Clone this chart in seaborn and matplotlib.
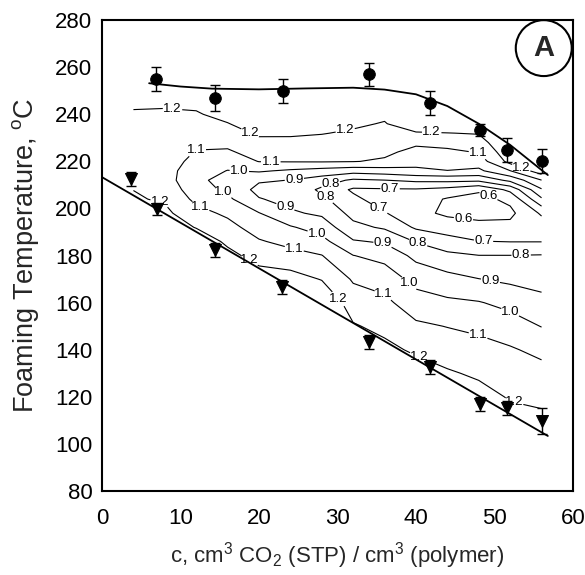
import matplotlib
matplotlib.use("Agg")
import matplotlib.pyplot as plt
from matplotlib.patches import Circle
from matplotlib.ticker import MultipleLocator
import numpy as np
import pandas as pd
import seaborn as sns

sns.set_style("white")
plt.rcParams["font.family"] = ["Liberation Sans", "DejaVu Sans"]

# upper foaming limit (circles) and lower foaming limit (triangles)
c_upper = [6.9, 14.4, 23.0, 34.0, 41.8, 48.2, 51.6, 56.0]
t_upper = [254.9, 246.9, 250.0, 257.0, 244.8, 233.3, 224.8, 220.1]
err_upper = [5, 5.5, 5, 5, 5, 2.5, 5, 5]

c_lower = [3.7, 7.0, 14.4, 22.9, 34.0, 41.8, 48.2, 51.6, 56.0]
t_lower = [212.5, 199.7, 182.3, 166.7, 143.3, 132.7, 116.9, 115.2, 109.7]
err_lower = [3, 2.5, 3, 3, 3, 3, 3, 3, 5.5]

# fitted boundaries
c_fit_upper = [6, 10, 14, 20, 26, 32, 36, 40, 44, 48, 52, 56.8]
t_fit_upper = [253.2, 251.8, 250.9, 250.6, 251.0, 251.3, 250.5, 248.5, 243.5, 236.0, 227.0, 214.2]
c_fit_lower = [0, 56.8]
t_fit_lower = [213.3, 103.4]

# contour map (estimated values on a coarse grid)
grid_c = [4, 8, 12, 16, 20, 24, 28, 32, 36, 40, 44, 48, 52, 56]
grid_t = [100, 110, 120, 130, 140, 150, 160, 170, 180, 186, 192, 198, 204, 208,
          212, 216, 220, 224, 228, 232, 236, 240, 245, 250, 255, 260]
ratio = [
    [1.3, 1.3, 1.3, 1.3, 1.3, 1.3, 1.3, 1.3, 1.3, 1.3, 1.3, 1.3, 1.3, 1.3],
    [1.3, 1.3, 1.3, 1.3, 1.3, 1.3, 1.3, 1.3, 1.3, 1.3, 1.3, 1.3, 1.233, 1.223],
    [1.3, 1.3, 1.3, 1.3, 1.3, 1.3, 1.3, 1.3, 1.3, 1.3, 1.3, 1.235, 1.192, 1.177],
    [1.3, 1.3, 1.3, 1.3, 1.3, 1.3, 1.3, 1.3, 1.3, 1.249, 1.211, 1.185, 1.151, 1.132],
    [1.3, 1.3, 1.3, 1.3, 1.3, 1.3, 1.3, 1.3, 1.226, 1.184, 1.155, 1.135, 1.110, 1.076],
    [1.3, 1.3, 1.3, 1.3, 1.3, 1.3, 1.3, 1.209, 1.174, 1.118, 1.097, 1.078, 1.048, 0.997],
    [1.3, 1.3, 1.3, 1.3, 1.3, 1.3, 1.29, 1.151, 1.123, 1.045, 1.019, 1.006, 0.971, 0.928],
    [1.3, 1.3, 1.3, 1.3, 1.25, 1.241, 1.195, 1.089, 1.058, 0.967, 0.933, 0.902, 0.880, 0.865],
    [1.3, 1.3, 1.3, 1.23, 1.161, 1.133, 1.103, 1.002, 0.968, 0.874, 0.823, 0.802, 0.802, 0.806],
    [1.3, 1.3, 1.27, 1.18, 1.109, 1.071, 1.031, 0.909, 0.888, 0.794, 0.738, 0.703, 0.697, 0.697],
    [1.3, 1.26, 1.195, 1.133, 1.055, 1.01, 0.956, 0.827, 0.787, 0.686, 0.653, 0.627, 0.629, 0.645],
    [1.3, 1.223, 1.133, 1.082, 1.004, 0.914, 0.883, 0.769, 0.707, 0.629, 0.582, 0.572, 0.577, 0.714],
    [1.21, 1.188, 1.076, 1.02, 0.906, 0.869, 0.821, 0.723, 0.65, 0.65, 0.591, 0.572, 0.622, 0.886],
    [1.199, 1.165, 1.044, 0.98, 0.87, 0.875, 0.78, 0.685, 0.689, 0.69, 0.667, 0.613, 0.725, 0.99],
    [1.19, 1.142, 1.026, 0.959, 0.912, 0.898, 0.851, 0.783, 0.798, 0.82, 0.825, 0.82, 0.925, 1.098],
    [1.18, 1.135, 1.049, 0.997, 1.012, 0.985, 0.962, 0.94, 0.955, 0.98, 0.998, 0.98, 1.098, 1.26],
    [1.166, 1.145, 1.072, 1.042, 1.103, 1.106, 1.108, 1.104, 1.086, 1.033, 1.04, 1.05, 1.233, 1.3],
    [1.164, 1.155, 1.095, 1.087, 1.14, 1.142, 1.14, 1.131, 1.121, 1.071, 1.08, 1.106, 1.27, 1.3],
    [1.172, 1.164, 1.119, 1.125, 1.177, 1.178, 1.172, 1.159, 1.145, 1.118, 1.133, 1.156, 1.3, 1.3],
    [1.18, 1.174, 1.143, 1.16, 1.214, 1.213, 1.204, 1.188, 1.17, 1.191, 1.198, 1.206, 1.3, 1.3],
    [1.188, 1.184, 1.167, 1.196, 1.25, 1.249, 1.236, 1.215, 1.194, 1.264, 1.267, 1.256, 1.3, 1.3],
    [1.196, 1.194, 1.191, 1.231, 1.29, 1.285, 1.268, 1.243, 1.218, 1.3, 1.3, 1.3, 1.3, 1.3],
    [1.206, 1.206, 1.221, 1.275, 1.3, 1.3, 1.3, 1.278, 1.248, 1.3, 1.3, 1.3, 1.3, 1.3],
    [1.22, 1.218, 1.25, 1.3, 1.3, 1.3, 1.3, 1.3, 1.279, 1.3, 1.3, 1.3, 1.3, 1.3],
    [1.3, 1.3, 1.3, 1.3, 1.3, 1.3, 1.3, 1.3, 1.3, 1.3, 1.3, 1.3, 1.3, 1.3],
    [1.3, 1.3, 1.3, 1.3, 1.3, 1.3, 1.3, 1.3, 1.3, 1.3, 1.3, 1.3, 1.3, 1.3],
]
levels = [0.6, 0.7, 0.8, 0.9, 1.0, 1.1, 1.2]

# where the contour labels sit
label_spots = [
    (9, 243), (19, 233), (31, 233), (42, 232), (53.5, 218),
    (7.5, 204), (19, 179), (29.5, 160), (40.5, 138), (52.5, 118),
    (12, 225), (21.5, 219), (48, 224.5), (12.5, 200.5), (24.5, 183),
    (36, 164.5), (48, 147),
    (17.5, 216.3), (15.3, 205.7), (27.4, 189.5), (38.6, 166.6), (52, 156),
    (24.5, 212.5), (23.2, 199.5), (35.8, 185.3), (49.5, 169.5),
    (29, 211.5), (28.5, 205), (40.3, 185.7), (53.4, 180.2),
    (36.7, 208.8), (35.4, 200.5), (48.6, 186),
    (49.4, 206.5), (46, 194.5),
]

upper_df = pd.DataFrame({"c": c_upper, "T": t_upper})
lower_df = pd.DataFrame({"c": c_lower, "T": t_lower})
fit_up_df = pd.DataFrame({"c": c_fit_upper, "T": t_fit_upper})
fit_lo_df = pd.DataFrame({"c": c_fit_lower, "T": t_fit_lower})

fig = plt.figure(figsize=(5.85, 5.75), dpi=100)
ax = fig.add_axes([0.1744, 0.146, 0.805, 0.819])

# contour map
cs = ax.contour(np.array(grid_c), np.array(grid_t), np.array(ratio),
                levels=levels, colors="black", linewidths=0.8)
labels = ax.clabel(cs, inline=True, fontsize=9.5, fmt="%.1f",
                   inline_spacing=2, manual=label_spots)
for t in labels:
    t.set_rotation(0)

# boundaries
sns.lineplot(x="c", y="T", data=fit_up_df, color="black", lw=1.3, ax=ax,
             sort=False, estimator=None)
sns.lineplot(x="c", y="T", data=fit_lo_df, color="black", lw=1.3, ax=ax,
             sort=False, estimator=None)

# data with error bars
ax.errorbar(c_upper, t_upper, yerr=err_upper, fmt="none", ecolor="black",
            elinewidth=1.0, capsize=3.5, capthick=1.0, zorder=4)
ax.errorbar(c_lower, t_lower, yerr=err_lower, fmt="none", ecolor="black",
            elinewidth=1.0, capsize=3.5, capthick=1.0, zorder=4)
sns.scatterplot(x="c", y="T", data=upper_df, marker="o", s=70, color="black",
                edgecolor="black", ax=ax, zorder=5)
sns.scatterplot(x="c", y="T", data=lower_df, marker="v", s=75, color="black",
                edgecolor="black", ax=ax, zorder=5)

ax.set_xlim(0, 60)
ax.set_ylim(80, 280)
ax.xaxis.set_major_locator(MultipleLocator(10))
ax.xaxis.set_minor_locator(MultipleLocator(1))
ax.yaxis.set_major_locator(MultipleLocator(20))
ax.tick_params(which="major", direction="in", length=5, width=1.2,
               labelsize=16, colors="black")
ax.tick_params(which="minor", direction="in", length=2, width=0.8)
ax.tick_params(axis="x", which="major", pad=12)
ax.tick_params(axis="y", which="major", pad=7)
ax.tick_params(top=False, right=False, which="both")
for sp in ax.spines.values():
    sp.set_linewidth(1.5)
    sp.set_color("black")

ax.set_xlabel(r"c, cm$^\mathregular{3}$ CO$_\mathregular{2}$ (STP) / cm$^\mathregular{3}$ (polymer)",
              fontsize=16, labelpad=8)
ax.set_ylabel(r"Foaming Temperature, $^\mathregular{o}$C", fontsize=19.5, labelpad=10)

# panel marker
ax.add_patch(Circle((0.938, 0.9406), 0.0594, transform=ax.transAxes,
                    fill=False, lw=1.5, ec="black", clip_on=False, zorder=6))
ax.text(0.938, 0.9406, "A", transform=ax.transAxes, fontsize=21,
        fontweight="bold", ha="center", va="center", zorder=7)

fig.savefig("out.png", dpi=100)
